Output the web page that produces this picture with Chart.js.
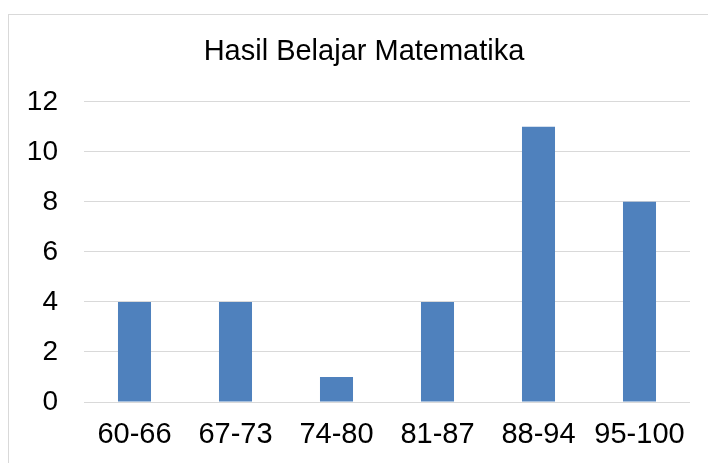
<!DOCTYPE html>
<html>
<head>
<meta charset="utf-8">
<script src="https://cdn.jsdelivr.net/npm/chart.js@4/dist/chart.umd.min.js"></script>
<style>
  html, body { margin: 0; padding: 0; background: #fff; overflow: hidden; }
  #wrap { position: relative; width: 708px; height: 463px; }
  #frame { position: absolute; left: 8px; top: 14px; width: 760px; height: 520px;
           border-left: 1px solid #d9d9d9; border-top: 1px solid #d9d9d9; box-sizing: border-box; }
  #chart { position: absolute; left: 0; top: 0; }
</style>
</head>
<body>
<div id="wrap">
  <div id="frame"></div>
  <canvas id="chart" width="708" height="463"></canvas>
</div>
<script>
// nilai kelas dan jumlah siswa
var kelas = ['60-66', '67-73', '74-80', '81-87', '88-94', '95-100'];
var jumlah = [4, 4, 1, 4, 11, 8];
var yTicks = [0, 2, 4, 6, 8, 10, 12];

var fontFamily = '"Liberation Sans", Arial, sans-serif';

// label sumbu Y jangan terpotong oleh padding kiri
var unclipY = {
    id: 'unclipY',
    afterLayout: function (chart) {
        chart.scales.y.left = 0;
    }
};

var ctx = document.getElementById('chart').getContext('2d');

var chart = new Chart(ctx, {
    type: 'bar',
    data: {
        labels: kelas,
        datasets: [{
            label: 'Hasil Belajar Matematika',
            data: jumlah,
            backgroundColor: '#4f81bd',
            borderWidth: 0,
            barPercentage: 0.327,
            categoryPercentage: 1.0
        }]
    },
    options: {
        responsive: false,
        animation: false,
        layout: {
            padding: { top: 35, left: 38, right: 18, bottom: 0 }
        },
        plugins: {
            legend: { display: false },
            tooltip: { enabled: false },
            title: {
                display: true,
                text: 'Hasil Belajar Matematika',
                color: '#000',
                font: { family: fontFamily, size: 29, weight: 'normal', lineHeight: 1.2 },
                padding: { top: 0, bottom: 32 }
            }
        },
        scales: {
            x: {
                grid: { display: false, drawTicks: false },
                border: { display: false },
                ticks: {
                    color: '#000',
                    padding: 16,
                    maxRotation: 0,
                    autoSkip: false,
                    font: { family: fontFamily, size: 29 }
                },
                afterFit: function (scale) { scale.height = 61; }
            },
            y: {
                min: 0,
                max: 12,
                afterBuildTicks: function (scale) {
                    scale.ticks = yTicks.map(v => ({ value: v }));
                },
                grid: { color: '#d9d9d9', lineWidth: 1, drawTicks: false },
                border: { display: false },
                ticks: {
                    color: '#000',
                    padding: 26,
                    font: { family: fontFamily, size: 28 }
                },
                afterFit: function (scale) { scale.width = 46; }
            }
        }
    },
    plugins: [unclipY]
});
</script>
</body>
</html>
